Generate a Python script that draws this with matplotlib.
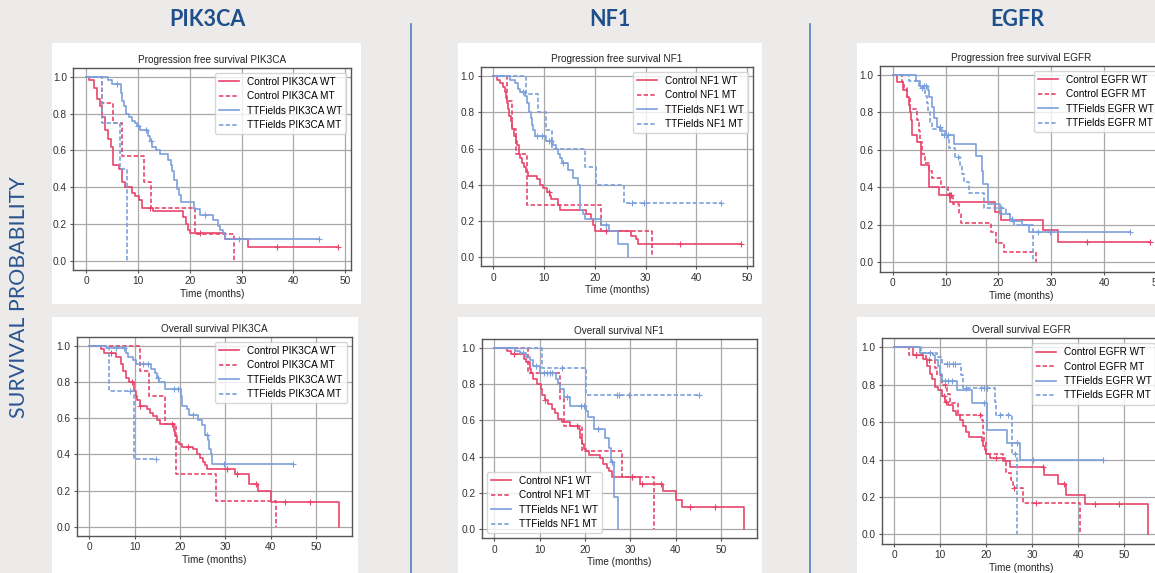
import numpy as np
import matplotlib.pyplot as plt
from matplotlib.patches import Rectangle
from matplotlib.lines import Line2D

W, H = 1155, 573

RED = '#e8456c'
BLUE = '#7b9fdb'
NAVY = '#1f4f8a'

genes = ['PIK3CA', 'NF1', 'EGFR']

# ---- PIK3CA, progression free survival ----
pik_pfs_cwt_t = [0.6, 1.6, 2.2, 2.7, 3.0, 3.6, 4.3, 4.9, 5.2, 6.3, 6.9, 7.6, 8.9, 9.5, 10.2, 10.8, 13.0,
                 18.8, 19.2, 19.6, 20.0, 26.8, 31.3]
pik_pfs_cwt_s = [0.98, 0.94, 0.88, 0.84, 0.78, 0.71, 0.66, 0.62, 0.52, 0.50, 0.43, 0.40, 0.37, 0.35, 0.33,
                 0.29, 0.27, 0.24, 0.20, 0.17, 0.15, 0.12, 0.075]
pik_pfs_cwt_c = [12.3, 22.0, 36.8, 48.6]
pik_pfs_cmt_t = [3.1, 5.3, 6.9, 11.2, 12.5, 21.1, 28.5]
pik_pfs_cmt_s = [0.86, 0.75, 0.57, 0.43, 0.29, 0.145, 0.0]
pik_pfs_cmt_c = []
pik_pfs_twt_t = [4.3, 5.1, 6.7, 7.0, 7.3, 7.7, 8.3, 8.9, 9.4, 9.9, 10.4, 11.9, 12.3, 12.8, 13.5, 14.2, 15.9,
                 16.3, 16.6, 17.0, 17.5, 18.0, 18.3, 20.8, 22.0, 24.5, 25.5, 25.8, 26.4, 26.9]
pik_pfs_twt_s = [0.98, 0.96, 0.91, 0.87, 0.84, 0.80, 0.78, 0.76, 0.75, 0.73, 0.71, 0.68, 0.65, 0.62, 0.60,
                 0.58, 0.55, 0.52, 0.49, 0.44, 0.39, 0.36, 0.32, 0.28, 0.25, 0.22, 0.19, 0.17, 0.15, 0.12]
pik_pfs_twt_c = [5.9, 10.0, 11.5, 12.6, 23.0, 29.5, 44.9]
pik_pfs_tmt_t = [3.0, 6.5, 8.0]
pik_pfs_tmt_s = [0.75, 0.50, 0.0]
pik_pfs_tmt_c = []

# ---- PIK3CA, overall survival ----
pik_os_cwt_t = [2.7, 3.2, 6.0, 7.0, 7.5, 8.1, 8.8, 9.9, 10.3, 10.6, 11.2, 12.7, 13.4, 14.1, 14.9, 15.6, 18.6,
                19.0, 19.3, 19.7, 20.4, 23.0, 23.7, 24.4, 25.2, 25.6, 25.9, 32.2, 35.3, 37.3, 40.1, 55.0]
pik_os_cwt_s = [0.98, 0.96, 0.94, 0.90, 0.86, 0.82, 0.80, 0.75, 0.72, 0.70, 0.67, 0.65, 0.63, 0.61, 0.59,
                0.57, 0.53, 0.50, 0.47, 0.46, 0.44, 0.43, 0.40, 0.38, 0.36, 0.34, 0.32, 0.29, 0.24, 0.20,
                0.14, 0.0]
pik_os_cwt_c = [4.8, 9.4, 11.2, 18.2, 21.7, 30.5, 32.6, 36.8, 43.2, 48.6]
pik_os_cmt_t = [11.2, 13.2, 16.7, 19.1, 27.9, 41.2]
pik_os_cmt_s = [0.86, 0.72, 0.57, 0.29, 0.145, 0.0]
pik_os_cmt_c = []
pik_os_twt_t = [3.8, 8.1, 8.6, 9.7, 10.3, 13.6, 14.5, 15.0, 15.5, 16.7, 20.2, 20.4, 21.5, 22.1, 24.1, 24.8,
                25.6, 26.2, 26.5, 26.8, 27.0]
pik_os_twt_s = [0.985, 0.96, 0.94, 0.92, 0.90, 0.87, 0.85, 0.82, 0.80, 0.76, 0.72, 0.67, 0.65, 0.62, 0.59,
                0.56, 0.51, 0.48, 0.43, 0.40, 0.35]
pik_os_twt_c = [6.0, 7.7, 11.8, 13.0, 15.2, 18.8, 19.5, 23.0, 25.9, 29.8, 45.0]
pik_os_tmt_t = [4.4, 9.9]
pik_os_tmt_s = [0.75, 0.375]
pik_os_tmt_c = [8.9, 14.7]

# ---- NF1, progression free survival ----
nf1_pfs_cwt_t = [0.65, 1.3, 1.8, 2.2, 2.5, 2.7, 2.9, 3.1, 3.4, 3.7, 4.0, 4.4, 4.7, 5.0, 5.3, 5.6, 6.0, 6.4,
                 6.9, 8.5, 9.2, 9.7, 10.5, 11.1, 11.4, 12.7, 13.1, 18.3, 19.2, 19.6, 20.1, 27.1, 28.2, 28.4]
nf1_pfs_cwt_s = [0.98, 0.96, 0.94, 0.91, 0.88, 0.85, 0.82, 0.78, 0.75, 0.71, 0.67, 0.64, 0.62, 0.57, 0.55,
                 0.52, 0.50, 0.47, 0.45, 0.43, 0.40, 0.38, 0.36, 0.34, 0.32, 0.29, 0.26, 0.24, 0.21, 0.18,
                 0.145, 0.12, 0.10, 0.075]
nf1_pfs_cwt_c = [11.0, 22.2, 36.8, 48.7]
nf1_pfs_cmt_t = [2.75, 3.6, 4.4, 6.7, 21.2, 31.2]
nf1_pfs_cmt_s = [0.86, 0.71, 0.57, 0.29, 0.145, 0.0]
nf1_pfs_cmt_c = []
nf1_pfs_twt_t = [3.3, 4.2, 4.9, 5.2, 6.3, 6.6, 7.1, 7.4, 7.6, 7.9, 8.2, 10.3, 11.8, 12.3, 12.7, 13.1, 13.5,
                 14.7, 15.7, 16.7, 17.0, 17.1, 17.6, 18.0, 21.2, 22.8, 24.5, 26.6]
nf1_pfs_twt_s = [0.98, 0.96, 0.93, 0.91, 0.89, 0.85, 0.80, 0.77, 0.73, 0.70, 0.67, 0.64, 0.62, 0.60, 0.57,
                 0.55, 0.52, 0.48, 0.44, 0.40, 0.37, 0.26, 0.24, 0.21, 0.18, 0.145, 0.075, 0.0]
nf1_pfs_twt_c = [5.8, 8.6, 9.6, 11.0, 11.4, 13.8, 22.2]
nf1_pfs_tmt_t = [6.5, 8.8, 10.3, 11.6, 18.0, 20.3, 25.8]
nf1_pfs_tmt_s = [0.90, 0.80, 0.70, 0.60, 0.50, 0.40, 0.30]
nf1_pfs_tmt_c = [27.3, 29.7, 44.8]

# ---- NF1, overall survival ----
nf1_os_cwt_t = [2.9, 3.8, 6.5, 7.1, 7.8, 8.1, 8.6, 9.4, 10.3, 10.6, 11.2, 11.9, 12.7, 13.4, 14.1, 14.9, 16.7,
                18.6, 19.0, 19.3, 19.7, 20.2, 20.8, 23.3, 24.0, 24.8, 25.4, 25.9, 32.2, 37.3, 40.1, 41.4, 55.0]
nf1_os_cwt_s = [0.98, 0.963, 0.94, 0.92, 0.88, 0.86, 0.83, 0.80, 0.77, 0.74, 0.71, 0.69, 0.66, 0.64, 0.61,
                0.59, 0.57, 0.55, 0.50, 0.47, 0.44, 0.43, 0.41, 0.39, 0.36, 0.34, 0.32, 0.29, 0.25, 0.21,
                0.16, 0.125, 0.0]
nf1_os_cwt_c = [4.4, 11.2, 18.2, 30.5, 32.6, 36.8, 43.2, 48.6]
nf1_os_cmt_t = [7.4, 14.5, 15.5, 19.3, 28.1, 35.3]
nf1_os_cmt_s = [0.86, 0.72, 0.57, 0.43, 0.29, 0.0]
nf1_os_cmt_c = [30.5]
nf1_os_twt_t = [4.6, 5.7, 7.0, 7.9, 8.6, 10.1, 13.6, 14.1, 14.5, 15.3, 16.7, 20.3, 20.6, 22.1, 24.4, 25.3,
                25.8, 26.5, 27.2]
nf1_os_twt_s = [0.98, 0.97, 0.95, 0.93, 0.90, 0.86, 0.83, 0.80, 0.77, 0.73, 0.68, 0.65, 0.62, 0.55, 0.50,
                0.45, 0.37, 0.18, 0.0]
nf1_os_twt_c = [6.4, 9.2, 11.0, 11.6, 12.2, 12.8, 16.0, 19.2, 19.7, 22.8, 26.0]
nf1_os_tmt_t = [10.6, 20.2]
nf1_os_tmt_s = [0.89, 0.74]
nf1_os_tmt_c = [14.9, 27.0, 27.5, 29.8, 45.1]

# ---- EGFR, progression free survival ----
egf_pfs_cwt_t = [0.8, 2.0, 2.6, 3.0, 3.3, 3.5, 3.7, 4.6, 5.4, 6.9, 8.7, 10.9, 19.4, 20.4, 28.4, 31.2]
egf_pfs_cwt_s = [0.96, 0.92, 0.88, 0.84, 0.80, 0.76, 0.68, 0.64, 0.52, 0.40, 0.36, 0.32, 0.27, 0.225, 0.17,
                 0.11]
egf_pfs_cwt_c = [10.6, 36.7, 48.7]
egf_pfs_cmt_t = [1.8, 2.1, 2.6, 3.2, 4.6, 4.9, 5.2, 5.6, 6.0, 6.8, 7.5, 9.2, 10.5, 11.3, 12.5, 13.0, 18.5,
                 19.5, 21.1, 27.2]
egf_pfs_cmt_s = [0.96, 0.93, 0.88, 0.82, 0.76, 0.70, 0.64, 0.58, 0.53, 0.49, 0.45, 0.40, 0.36, 0.31, 0.26,
                 0.21, 0.16, 0.105, 0.055, 0.0]
egf_pfs_cmt_c = [10.9, 11.1]
egf_pfs_twt_t = [4.4, 5.2, 6.6, 6.9, 7.4, 7.8, 8.3, 9.0, 10.0, 11.5, 15.8, 16.8, 17.1, 18.1, 20.2, 22.1, 24.4,
                 25.8]
egf_pfs_twt_s = [0.97, 0.94, 0.92, 0.88, 0.83, 0.77, 0.72, 0.70, 0.68, 0.63, 0.57, 0.49, 0.42, 0.31, 0.26,
                 0.22, 0.20, 0.16]
egf_pfs_twt_c = [5.9, 6.2, 8.9, 10.5, 27.5, 29.8, 44.9]
egf_pfs_tmt_t = [3.0, 4.9, 6.0, 6.4, 6.6, 7.0, 7.4, 9.3, 10.2, 10.6, 11.8, 12.7, 13.1, 13.4, 14.4, 17.2, 21.5,
                 22.1, 22.9, 26.5]
egf_pfs_tmt_s = [0.97, 0.93, 0.89, 0.85, 0.80, 0.75, 0.71, 0.68, 0.66, 0.61, 0.56, 0.52, 0.47, 0.43, 0.37,
                 0.29, 0.26, 0.23, 0.20, 0.0]
egf_pfs_tmt_c = [5.5, 9.6, 12.4, 20.5, 22.5]

# ---- EGFR, overall survival ----
egf_os_cwt_t = [4.1, 6.3, 7.2, 7.7, 8.1, 8.8, 9.6, 10.3, 11.0, 11.7, 12.8, 13.4, 14.3, 15.0, 15.7, 16.2, 19.0,
                19.4, 19.7, 20.0, 20.8, 24.0, 25.1, 32.6, 35.6, 37.4, 41.6, 55.3]
egf_os_cwt_s = [0.96, 0.94, 0.90, 0.86, 0.83, 0.79, 0.77, 0.74, 0.71, 0.69, 0.66, 0.64, 0.61, 0.58, 0.55,
                0.52, 0.50, 0.47, 0.45, 0.43, 0.41, 0.39, 0.36, 0.32, 0.27, 0.21, 0.16, 0.0]
egf_os_cwt_c = [4.8, 10.9, 11.2, 22.2, 32.4, 37.0, 43.6, 49.0]
egf_os_cmt_t = [3.3, 6.8, 8.8, 9.3, 10.3, 11.4, 12.1, 13.9, 19.0, 19.2, 19.5, 19.9, 23.7, 24.2, 25.5, 25.8,
                28.0, 40.4]
egf_os_cmt_s = [0.96, 0.93, 0.89, 0.85, 0.80, 0.75, 0.70, 0.64, 0.61, 0.54, 0.50, 0.43, 0.39, 0.33, 0.29,
                0.25, 0.17, 0.0]
egf_os_cmt_c = [4.8, 7.5, 11.0, 18.6, 26.0, 30.8]
egf_os_twt_t = [5.6, 8.4, 8.8, 9.5, 9.9, 10.3, 13.7, 17.0, 20.2, 24.5, 27.4]
egf_os_twt_s = [0.97, 0.96, 0.93, 0.90, 0.86, 0.82, 0.77, 0.70, 0.56, 0.49, 0.40]
egf_os_twt_c = [7.8, 11.0, 11.6, 12.5, 19.5, 26.8, 30.2, 45.4]
egf_os_tmt_t = [5.9, 9.3, 10.4, 14.6, 15.0, 21.9, 22.2, 25.6, 26.7]
egf_os_tmt_s = [0.97, 0.95, 0.91, 0.85, 0.78, 0.71, 0.64, 0.43, 0.0]
egf_os_tmt_c = [11.5, 12.0, 12.8, 13.3, 15.6, 18.9, 19.5, 20.2, 23.0, 24.7, 26.2]

xticks = [0, 10, 20, 30, 40, 50]
yticks = [0.0, 0.2, 0.4, 0.6, 0.8, 1.0]

DASH = (0, (2.6, 1.4))


def px_box(l, t, r, b):
    return [l / W, 1 - b / H, (r - l) / W, (b - t) / H]


def km(ax, t, s, cens, color, ls, label):
    tt = np.r_[0.0, t]
    ss = np.r_[1.0, s]
    if len(cens) and max(cens) > tt[-1]:
        tt = np.r_[tt, max(cens)]
        ss = np.r_[ss, ss[-1]]
    ax.step(tt, ss, where='post', color=color, ls=ls, lw=1.2, label=label)
    if len(cens):
        c = np.asarray(cens)
        idx = np.searchsorted(tt, c, side='right') - 1
        ax.plot(c, ss[idx], ls='none', marker='+', ms=4, mew=0.8, color=color)


fig = plt.figure(figsize=(W / 100, H / 100), dpi=100)
fig.patch.set_facecolor('#ecebe9')
plt.rcParams['font.family'] = ['Liberation Sans', 'DejaVu Sans']

# white cards behind each plot
cards = [(52, 43, 361, 304), (52, 317, 358, 573), (458, 43, 762, 304),
         (458, 317, 762, 573), (857, 43, 1155, 304), (857, 317, 1155, 573)]
for l, t, r, b in cards:
    x0, y0, w, h = px_box(l, t, r, b)
    fig.add_artist(Rectangle((x0, y0), w, h, transform=fig.transFigure,
                             facecolor='white', edgecolor='none', zorder=0))

panels = [
    (px_box(73.3, 67.5, 351.0, 270.2), 'Progression free survival', 0, (-2.44, 51.1), 'upper right',
     [(pik_pfs_cwt_t, pik_pfs_cwt_s, pik_pfs_cwt_c), (pik_pfs_cmt_t, pik_pfs_cmt_s, pik_pfs_cmt_c),
      (pik_pfs_twt_t, pik_pfs_twt_s, pik_pfs_twt_c), (pik_pfs_tmt_t, pik_pfs_tmt_s, pik_pfs_tmt_c)]),
    (px_box(76.7, 336.6, 351.7, 536.1), 'Overall survival', 0, (-2.76, 57.9), 'upper right',
     [(pik_os_cwt_t, pik_os_cwt_s, pik_os_cwt_c), (pik_os_cmt_t, pik_os_cmt_s, pik_os_cmt_c),
      (pik_os_twt_t, pik_os_twt_s, pik_os_twt_c), (pik_os_tmt_t, pik_os_tmt_s, pik_os_tmt_c)]),
    (px_box(481.0, 66.9, 752.7, 266.4), 'Progression free survival', 1, (-2.44, 51.1), 'upper right',
     [(nf1_pfs_cwt_t, nf1_pfs_cwt_s, nf1_pfs_cwt_c), (nf1_pfs_cmt_t, nf1_pfs_cmt_s, nf1_pfs_cmt_c),
      (nf1_pfs_twt_t, nf1_pfs_twt_s, nf1_pfs_twt_c), (nf1_pfs_tmt_t, nf1_pfs_tmt_s, nf1_pfs_tmt_c)]),
    (px_box(481.7, 338.6, 756.7, 538.4), 'Overall survival', 1, (-2.76, 57.9), 'lower left',
     [(nf1_os_cwt_t, nf1_os_cwt_s, nf1_os_cwt_c), (nf1_os_cmt_t, nf1_os_cmt_s, nf1_os_cmt_c),
      (nf1_os_twt_t, nf1_os_twt_s, nf1_os_twt_c), (nf1_os_tmt_t, nf1_os_tmt_s, nf1_os_tmt_c)]),
    (px_box(880.0, 65.6, 1162.6, 271.7), 'Progression free survival', 2, (-2.44, 51.1), 'upper right',
     [(egf_pfs_cwt_t, egf_pfs_cwt_s, egf_pfs_cwt_c), (egf_pfs_cmt_t, egf_pfs_cmt_s, egf_pfs_cmt_c),
      (egf_pfs_twt_t, egf_pfs_twt_s, egf_pfs_twt_c), (egf_pfs_tmt_t, egf_pfs_tmt_s, egf_pfs_tmt_c)]),
    (px_box(881.6, 338.0, 1160.4, 543.7), 'Overall survival', 2, (-2.76, 57.9), 'upper right',
     [(egf_os_cwt_t, egf_os_cwt_s, egf_os_cwt_c), (egf_os_cmt_t, egf_os_cmt_s, egf_os_cmt_c),
      (egf_os_twt_t, egf_os_twt_s, egf_os_twt_c), (egf_os_tmt_t, egf_os_tmt_s, egf_os_tmt_c)]),
]

styles = [(RED, '-', 'Control {} WT'), (RED, DASH, 'Control {} MT'),
          (BLUE, '-', 'TTFields {} WT'), (BLUE, DASH, 'TTFields {} MT')]

for box, title, gi, xlim, loc, curves in panels:
    g = genes[gi]
    ax = fig.add_axes(box)
    ax.set_facecolor('white')
    ax.grid(True, color='#a8a8a8', lw=0.9)
    ax.set_axisbelow(True)
    for (t, s, c), (col, ls, lab) in zip(curves, styles):
        km(ax, t, s, c, col, ls, lab.format(g))
    ax.set_xlim(*xlim)
    ax.set_ylim(-0.05, 1.05)
    ax.set_xticks(xticks)
    ax.set_yticks(yticks)
    ax.set_yticklabels([f'{v:.1f}' for v in yticks])
    ax.tick_params(labelsize=7.3, length=2, pad=2.5, color='#555555', labelcolor='#333333')
    for sp in ax.spines.values():
        sp.set_color('#555555')
        sp.set_linewidth(1.0)
    ax.set_title(f'{title} {g}', fontsize=7.2, pad=3.5, color='#222222')
    ax.set_xlabel('Time (months)', fontsize=7.2, labelpad=2, color='#222222')
    handles = [Line2D([], [], color=col, ls=ls, lw=1.2) for col, ls, _ in styles]
    ax.legend(handles, [lab.format(g) for _, _, lab in styles], loc=loc, fontsize=7.2,
              labelspacing=0.45, borderaxespad=0.5)

# column headings
for x, g in zip([207, 610, 1017], genes):
    fig.text(x / W, 1 - 19 / H, g, ha='center', va='center', fontsize=15.5,
             fontweight='bold', color=NAVY, family=['Lato', 'DejaVu Sans'])

# vertical dividers
for x in [410.5, 810.0]:
    fig.add_artist(Line2D([x / W, x / W], [0, 1 - 24 / H], transform=fig.transFigure,
                          color='#4f81c7', lw=1.2))

fig.text(19 / W, 1 - 297 / H, 'SURVIVAL PROBABILITY', rotation=90, ha='center', va='center',
         fontsize=15.4, color='#2a5590', family=['Lato', 'DejaVu Sans'])

fig.savefig('out.png', dpi=100, facecolor=fig.get_facecolor())
